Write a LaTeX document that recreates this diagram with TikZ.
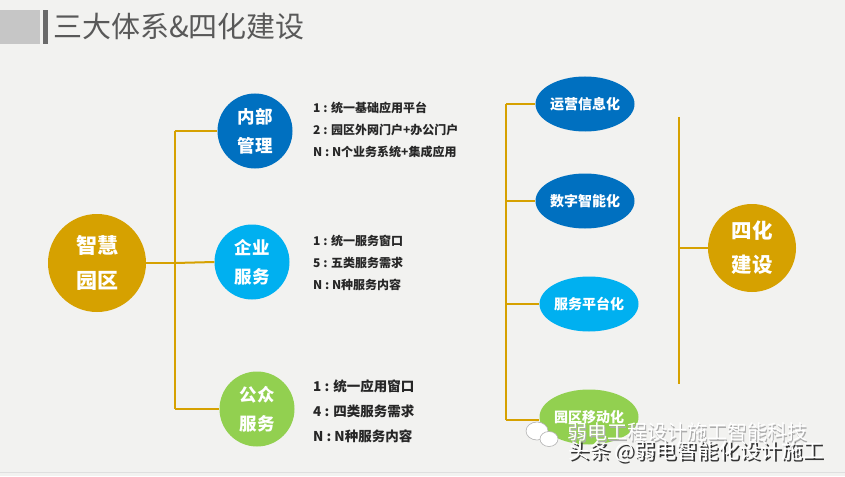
\documentclass[tikz,border=0pt]{standalone}
\usepackage{fontspec}
\setmainfont{Noto Sans CJK SC}
\usetikzlibrary{shapes.geometric}
\definecolor{bg}{HTML}{F2F2F0}
\definecolor{gold}{HTML}{D6A100}
\definecolor{dblue}{HTML}{0070C0}
\definecolor{lblue}{HTML}{00B0F0}
\definecolor{lgreen}{HTML}{92D050}
\definecolor{titlec}{HTML}{595959}
\definecolor{txt}{HTML}{262626}
\newcommand{\shadowtext}[3]{\makebox[0pt][l]{\raisebox{-#2}{\hspace{#2}\textcolor{#1}{#3}}}#3}
\tikzset{
  link/.style={draw=gold, line width=2pt},
  bigball/.style={circle, fill=gold, text=white, font=\bfseries\fontsize{21}{35}\selectfont, align=center, inner sep=0pt},
  midball/.style={circle, text=white, font=\bfseries\fontsize{17.5}{29}\selectfont, align=center, inner sep=0pt, minimum size=75pt},
  oval/.style={ellipse, text=white, font=\bfseries\fontsize{14}{16}\selectfont, inner sep=0pt, minimum width=97pt, minimum height=55pt},
  listA/.style={anchor=west, text=txt, font=\bfseries\fontsize{12}{22}\selectfont, align=left, inner sep=0pt},
  listB/.style={anchor=west, text=txt, font=\bfseries\fontsize{13.5}{25}\selectfont, align=left, inner sep=0pt},
  wmark/.style={anchor=west, inner sep=0pt},
}
\begin{document}
\begin{tikzpicture}[x=1pt,y=-1pt]
\fill[bg] (0,0) rectangle (845,476);
\useasboundingbox (0,0) rectangle (845,476);
% title
\fill[gray!45] (0,10) rectangle (40,44);
\fill[titlec!90] (43,10) rectangle (48,44);
\node[anchor=west, text=titlec, font=\fontsize{29}{30}\selectfont, inner sep=0pt] (title) at (53,27) {三大体系\&四化建设};
% left tree
\node[bigball, minimum size=98pt] (zh) at (97,263) {智慧\\园区};
\node[midball, fill=dblue] (nb) at (255,131) {内部\\管理};
\node[midball, fill=lblue] (qy) at (252,262) {企业\\服务};
\node[midball, fill=lgreen] (gz) at (257,409) {公众\\服务};
\coordinate (lt) at (175,131);
\coordinate (lm) at (175,263);
\coordinate (lb) at (175,409);
\draw[link] (zh.east) -- (lm);
\draw[link] (lt) -- (lb);
\draw[link] (lt) -- (nb.west);
\draw[link] (lm) -- (qy.west);
\draw[link] (lb) -- (gz.west);
% lists
\node[listA] (la) at (313,130) {1 : 统一基础应用平台\\2 : 园区外网门户+办公门户\\N : N个业务系统+集成应用};
\node[listA] (lbx) at (313,263) {1 : 统一服务窗口\\5 : 五类服务需求\\N : N种服务内容};
\node[listB] (lc) at (313,411) {1 : 统一应用窗口\\4 : 四类服务需求\\N : N种服务内容};
% right tree
\node[oval, fill=dblue] (yy) at (585,104) {运营信息化};
\node[oval, fill=dblue] (sz) at (585,201) {数字智能化};
\node[oval, fill=lblue] (fw) at (589,304) {服务平台化};
\node[oval, fill=lgreen] (yd) at (589,417) {园区移动化};
\coordinate (rt) at (506,104);
\coordinate (r2) at (506,201);
\coordinate (r3) at (506,304);
\coordinate (rb) at (506,420);
\draw[link] (rt) -- (rb);
\draw[link] (rt) -- (yy.west);
\draw[link] (r2) -- (sz.west);
\draw[link] (r3) -- (fw.west);
\draw[link] (rb) -- (rb -| yd.west);
\node[bigball, minimum size=88pt, font=\bfseries\fontsize{20.5}{34}\selectfont] (sh) at (752,248) {四化\\建设};
\coordinate (st) at (679,117);
\coordinate (sm) at (679,248);
\coordinate (sb) at (679,384);
\draw[link] (st) -- (sb);
\draw[link] (sm) -- (sh.west);
% bottom line
\draw[gray!25, line width=0.8pt] (0,472) -- (845,472);
% watermark
\fill[white, draw=gray!60, line width=0.6pt] (537,431) ellipse (11pt and 9pt);
\fill[white, draw=gray!60, line width=0.6pt] (549,439) ellipse (9pt and 7.5pt);
\node[wmark, text=white, font=\fontsize{20}{20}\selectfont] (w1) at (567,433) {\shadowtext{gray!65}{1.5pt}{弱电工程设计施工智能科技}};
\node[wmark, text=white, font=\fontsize{21}{21}\selectfont] (w2) at (568,452) {\shadowtext{black!80}{2pt}{头条 @弱电智能化设计施工}};
\end{tikzpicture}
\end{document}
